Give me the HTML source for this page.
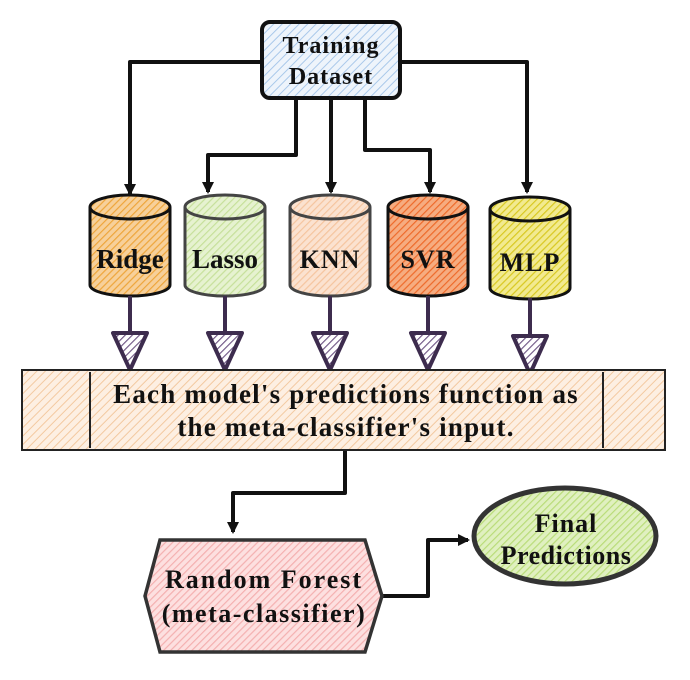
<!DOCTYPE html>
<html><head><meta charset="utf-8"><style>html,body{margin:0;padding:0;background:#fff}svg{display:block}text{font-family:"Liberation Serif",serif;font-weight:bold;fill:#111;text-anchor:middle}</style></head><body>
<svg width="690" height="680" viewBox="0 0 690 680" xmlns="http://www.w3.org/2000/svg">
<defs>
<pattern id="hb" width="6" height="6" patternUnits="userSpaceOnUse" patternTransform="rotate(45)"><rect width="6" height="6" fill="#eef4fb"/><line x1="0" y1="0" x2="0" y2="6" stroke="#a9c8ea" stroke-width="2"/></pattern>
<pattern id="h1" width="5" height="5" patternUnits="userSpaceOnUse" patternTransform="rotate(45)"><rect width="5" height="5" fill="#f7d09a"/><line x1="0" y1="0" x2="0" y2="5" stroke="#eea53a" stroke-width="2.4"/></pattern>
<pattern id="h2" width="5" height="5" patternUnits="userSpaceOnUse" patternTransform="rotate(45)"><rect width="5" height="5" fill="#e6f2d0"/><line x1="0" y1="0" x2="0" y2="5" stroke="#c6e09a" stroke-width="2.4"/></pattern>
<pattern id="h3" width="5" height="5" patternUnits="userSpaceOnUse" patternTransform="rotate(45)"><rect width="5" height="5" fill="#fbe2d0"/><line x1="0" y1="0" x2="0" y2="5" stroke="#f5c49e" stroke-width="2.4"/></pattern>
<pattern id="h4" width="5" height="5" patternUnits="userSpaceOnUse" patternTransform="rotate(45)"><rect width="5" height="5" fill="#f6ac80"/><line x1="0" y1="0" x2="0" y2="5" stroke="#ee6a2a" stroke-width="2.4"/></pattern>
<pattern id="h5" width="5" height="5" patternUnits="userSpaceOnUse" patternTransform="rotate(45)"><rect width="5" height="5" fill="#f2ea90"/><line x1="0" y1="0" x2="0" y2="5" stroke="#d8c820" stroke-width="2.4"/></pattern>
<pattern id="hp" width="6" height="6" patternUnits="userSpaceOnUse" patternTransform="rotate(45)"><rect width="6" height="6" fill="#fdefe2"/><line x1="0" y1="0" x2="0" y2="6" stroke="#f3c9a0" stroke-width="2"/></pattern>
<pattern id="hr" width="5" height="5" patternUnits="userSpaceOnUse" patternTransform="rotate(45)"><rect width="5" height="5" fill="#fde0e0"/><line x1="0" y1="0" x2="0" y2="5" stroke="#f4b0b0" stroke-width="2.4"/></pattern>
<pattern id="hg" width="5" height="5" patternUnits="userSpaceOnUse" patternTransform="rotate(45)"><rect width="5" height="5" fill="#e0f0c0"/><line x1="0" y1="0" x2="0" y2="5" stroke="#b9dc78" stroke-width="2.4"/></pattern>
<pattern id="hv" width="5" height="5" patternUnits="userSpaceOnUse" patternTransform="rotate(45)"><rect width="5" height="5" fill="#fff"/><line x1="0" y1="0" x2="0" y2="5" stroke="#6a5080" stroke-width="2.2"/></pattern>
<marker id="ar" markerWidth="14" markerHeight="14" refX="10" refY="7" orient="auto" markerUnits="userSpaceOnUse"><path d="M0,1 L12,7 L0,13 z" fill="#111"/></marker>
</defs>
<g fill="none" stroke="#111" stroke-width="4" stroke-linejoin="round">
<path d="M262,62 H130 V194" marker-end="url(#ar)"/>
<path d="M296,98 V155 H208 V192" marker-end="url(#ar)"/>
<path d="M331,98 V192" marker-end="url(#ar)"/>
<path d="M365,98 V150 H430 V192" marker-end="url(#ar)"/>
<path d="M400,62 H527 V192" marker-end="url(#ar)"/>
<path d="M345,450 V493 H233 V532" marker-end="url(#ar)"/>
<path d="M383,596 H428 V540 H468" marker-end="url(#ar)"/>
</g>
<rect x="262" y="22" width="138" height="76" rx="8" fill="url(#hb)" stroke="#111" stroke-width="4"/>
<text x="331" y="53" font-size="24" style="letter-spacing:1px">Training</text>
<text x="331" y="84" font-size="24" style="letter-spacing:1px">Dataset</text>
<g stroke="#111" stroke-width="3">
<path d="M90,207 V285 A40,11 0 0 0 170,285 V207" fill="url(#h1)"/><ellipse cx="130" cy="207" rx="40" ry="12" fill="url(#h1)"/>
<path d="M185,207 V285 A40,11 0 0 0 265,285 V207" fill="url(#h2)" stroke="#444"/><ellipse cx="225" cy="207" rx="40" ry="12" fill="url(#h2)" stroke="#444"/>
<path d="M290,207 V285 A40,11 0 0 0 370,285 V207" fill="url(#h3)" stroke="#444"/><ellipse cx="330" cy="207" rx="40" ry="12" fill="url(#h3)" stroke="#444"/>
<path d="M388,207 V285 A40,11 0 0 0 468,285 V207" fill="url(#h4)"/><ellipse cx="428" cy="207" rx="40" ry="12" fill="url(#h4)"/>
<path d="M490,209 V288 A40,11 0 0 0 570,288 V209" fill="url(#h5)"/><ellipse cx="530" cy="209" rx="40" ry="12" fill="url(#h5)"/>
</g>
<text x="130" y="268" font-size="27">Ridge</text>
<text x="225" y="268" font-size="27">Lasso</text>
<text x="330" y="268" font-size="26" style="letter-spacing:1px">KNN</text>
<text x="428" y="268" font-size="26" style="letter-spacing:1px">SVR</text>
<text x="530" y="271" font-size="26" style="letter-spacing:1px">MLP</text>
<g stroke="#3d2c4e" stroke-width="4" fill="url(#hv)" stroke-linejoin="round">
<path d="M130,296 V335 M225,296 V335 M330,296 V335 M428,296 V335 M530,298 V337" fill="none"/>
<path d="M113,333 H147 L130,370 z"/><path d="M208,333 H242 L225,370 z"/><path d="M313,333 H347 L330,370 z"/><path d="M411,333 H445 L428,370 z"/><path d="M513,336 H547 L530,374 z"/>
</g>
<rect x="22" y="370" width="643" height="80" fill="url(#hp)" stroke="#222" stroke-width="2"/>
<path d="M90,372 V448 M603,372 V448" stroke="#222" stroke-width="2"/>
<text x="346" y="403" font-size="27" style="letter-spacing:1.2px">Each model's predictions function as</text>
<text x="346" y="436" font-size="27" style="letter-spacing:1.2px">the meta-classifier's input.</text>
<path d="M160,540 H365 L382,596 L365,652 H160 L145,596 z" fill="url(#hr)" stroke="#333" stroke-width="3.5"/>
<text x="264" y="588" font-size="26" style="letter-spacing:2px">Random Forest</text>
<text x="264" y="622" font-size="26" style="letter-spacing:1.5px">(meta-classifier)</text>
<ellipse cx="565" cy="536" rx="91" ry="48" fill="url(#hg)" stroke="#333" stroke-width="5"/>
<text x="566" y="532" font-size="26" style="letter-spacing:1px">Final</text>
<text x="566" y="564" font-size="26" style="letter-spacing:0.5px">Predictions</text>
</svg>
</body></html>
